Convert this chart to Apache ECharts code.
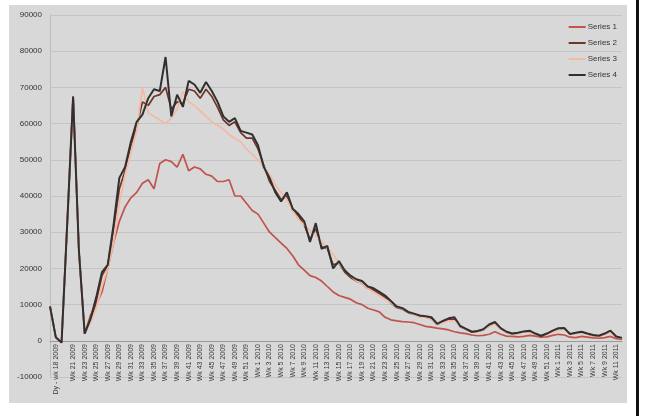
<!DOCTYPE html>
<html>
<head>
<meta charset="utf-8">
<script src="https://cdn.jsdelivr.net/npm/echarts@6/dist/echarts.min.js"></script>
<style>
  body { margin: 0; background: #fff; width: 645px; height: 416px; overflow: hidden; }
  #main { position: absolute; left: 9px; top: 5px; width: 618px; height: 398px; background: #d8d8d8; }
  #edge { position: absolute; left: 636px; top: 0; width: 3px; height: 416px; background: #111; }
</style>
</head>
<body>
<div id="main"></div>
<div id="edge"></div>
<script>
// weekly categories
const categories = [
  'Wk 17 2009', 'Dy - wk 18 2009', 'Wk 19 2009', 'Wk 20 2009', 'Wk 21 2009', 'Wk 22 2009', 'Wk 23 2009', 'Wk 24 2009', 'Wk 25 2009', 'Wk 26 2009',
  'Wk 27 2009', 'Wk 28 2009', 'Wk 29 2009', 'Wk 30 2009', 'Wk 31 2009', 'Wk 32 2009', 'Wk 33 2009', 'Wk 34 2009', 'Wk 35 2009', 'Wk 36 2009',
  'Wk 37 2009', 'Wk 38 2009', 'Wk 39 2009', 'Wk 40 2009', 'Wk 41 2009', 'Wk 42 2009', 'Wk 43 2009', 'Wk 44 2009', 'Wk 45 2009', 'Wk 46 2009',
  'Wk 47 2009', 'Wk 48 2009', 'Wk 49 2009', 'Wk 50 2009', 'Wk 51 2009', 'Wk 52 2009', 'Wk 1 2010', 'Wk 2 2010', 'Wk 3 2010', 'Wk 4 2010',
  'Wk 5 2010', 'Wk 6 2010', 'Wk 7 2010', 'Wk 8 2010', 'Wk 9 2010', 'Wk 10 2010', 'Wk 11 2010', 'Wk 12 2010', 'Wk 13 2010', 'Wk 14 2010',
  'Wk 15 2010', 'Wk 16 2010', 'Wk 17 2010', 'Wk 18 2010', 'Wk 19 2010', 'Wk 20 2010', 'Wk 21 2010', 'Wk 22 2010', 'Wk 23 2010', 'Wk 24 2010',
  'Wk 25 2010', 'Wk 26 2010', 'Wk 27 2010', 'Wk 28 2010', 'Wk 29 2010', 'Wk 30 2010', 'Wk 31 2010', 'Wk 32 2010', 'Wk 33 2010', 'Wk 34 2010',
  'Wk 35 2010', 'Wk 36 2010', 'Wk 37 2010', 'Wk 38 2010', 'Wk 39 2010', 'Wk 40 2010', 'Wk 41 2010', 'Wk 42 2010', 'Wk 43 2010', 'Wk 44 2010',
  'Wk 45 2010', 'Wk 46 2010', 'Wk 47 2010', 'Wk 48 2010', 'Wk 49 2010', 'Wk 50 2010', 'Wk 51 2010', 'Wk 52 2010', 'Wk 1 2011', 'Wk 2 2011',
  'Wk 3 2011', 'Wk 4 2011', 'Wk 5 2011', 'Wk 6 2011', 'Wk 7 2011', 'Wk 8 2011', 'Wk 9 2011', 'Wk 10 2011', 'Wk 11 2011', 'Wk 12 2011'
];

const series1 = [
  9500, 1000, -500, 33000, 67500, 25000, 2000, 7000, 10000, 13500,
  20000, 27000, 33000, 37000, 39500, 41000, 43500, 44500, 42000, 49000,
  50000, 49500, 48000, 51500, 47000, 48000, 47500, 46000, 45500, 44000,
  44000, 44500, 40000, 40000, 38000, 36000, 35000, 32500, 30000, 28500,
  27000, 25500, 23500, 21000, 19500, 18000, 17500, 16500, 15000, 13500,
  12500, 12000, 11500, 10500, 10000, 9000, 8500, 8000, 6500, 5800,
  5500, 5300, 5200, 5000, 4500, 4000, 3800, 3500, 3300, 3000,
  2500, 2200, 2000, 1600, 1400, 1500, 1800, 2500, 1800, 1300,
  1200, 1100, 1200, 1500, 1300, 1000, 1100, 1500, 1800, 1600,
  1000, 900, 1200, 1000, 800, 700, 900, 1200, 600, 400
];

const series2 = [
  9500, 1000, -500, 33000, 67500, 25000, 2000, 5500, 11000, 18000,
  21000, 31000, 42000, 47000, 54000, 59000, 66000, 65000, 67500, 68000,
  70000, 64000, 66000, 65500, 69500, 69000, 67000, 69500, 67500, 64500,
  61000, 59500, 60500, 57500, 56000, 56000, 53000, 48500, 44000, 41500,
  39000, 40000, 36000, 34500, 32000, 28000, 31000, 26000, 25500, 21000,
  21500, 19000, 17500, 16500, 16000, 14500, 14000, 13000, 12000, 10500,
  9200, 8700, 7800, 7300, 6800, 6500, 6200, 4500, 5200, 5800,
  6000, 3900, 3200, 2400, 2600, 3000, 4200, 4900, 3300, 2400,
  1900, 2100, 2500, 2600, 1900, 1300, 1900, 2600, 3300, 3600,
  1800, 2100, 2400, 1900, 1500, 1300, 1900, 2600, 1100, 700
];

const series3 = [
  9500, 1000, -500, 33000, 67500, 25000, 2000, 5000, 9000, 15000,
  20000, 27000, 38000, 46000, 52000, 58000, 70000, 63000, 62000, 61000,
  60000, 61500, 64000, 68800, 66000, 65000, 63500, 62000, 60500, 59500,
  58500, 57000, 55800, 55000, 53000, 51500, 50000, 48000, 46000, 43000,
  41000, 39000, 36000, 33500, 32000, 30500, 29000, 27500, 25500, 24000,
  21500, 19500, 18000, 16500, 16000, 14500, 13500, 12500, 11500, 10500,
  9500, 8800, 8000, 7200, 6500, 6500, 5800, 4500, 5000, 5500,
  5500, 4000, 3200, 2600, 2500, 3000, 4000, 4600, 3200, 2300,
  1900, 2000, 2400, 2500, 1800, 1500, 1800, 2400, 3000, 3200,
  1800, 2000, 2200, 1800, 1500, 1300, 1700, 2400, 1100, 700
];

const series4 = [
  9500, 1000, -500, 33000, 67500, 25000, 2000, 6000, 12000, 19000,
  21000, 32000, 45000, 48000, 55000, 60500, 62500, 67000, 69500, 69000,
  78400, 62000, 68000, 64600, 71800, 70800, 68500, 71500, 69000, 66000,
  62000, 60500, 61500, 58000, 57500, 57000, 54000, 48000, 45000, 41000,
  38500, 41000, 36500, 35000, 33000, 27300, 32500, 25400, 26200, 20000,
  22000, 19500, 18000, 17000, 16500, 15000, 14500, 13500, 12500, 11000,
  9500, 9000, 8000, 7500, 7000, 6800, 6500, 4700, 5500, 6200,
  6500, 4100, 3300, 2500, 2700, 3200, 4500, 5200, 3500, 2500,
  2000, 2200, 2600, 2800, 2000, 1400, 2000, 2800, 3500, 3500,
  1900, 2200, 2500, 2000, 1600, 1400, 2000, 2800, 1200, 800
];

const seriesNames = ['Series 1', 'Series 2', 'Series 3', 'Series 4'];
const seriesData = [series1, series2, series3, series4];
const colors = ['#c0544a', '#6f3528', '#f4b9a3', '#303030'];
const widths = [1.7, 1.7, 1.7, 2];

const myChart = echarts.init(document.getElementById('main'));

myChart.setOption({
  animation: false,
  color: colors,
  textStyle: { fontFamily: 'Liberation Sans, Arial, sans-serif' },
  grid: { left: 41, right: 5, top: 10, bottom: 26, containLabel: false, outerBoundsMode: 'none' },
  legend: {
    orient: 'vertical',
    right: 5,
    top: 13,
    itemGap: 8,
    itemWidth: 17,
    itemHeight: 2,
    icon: 'rect',
    textStyle: { fontSize: 8, color: '#333', padding: [0, 0, 0, -3] },
    data: seriesNames
  },
  xAxis: {
    type: 'category',
    boundaryGap: false,
    data: categories,
    // keep the axis and its labels on the zero line
    offset: -36,
    axisLine: { onZero: false, lineStyle: { color: '#9a9a9a' } },
    axisTick: { show: false },
    axisLabel: {
      rotate: 90,
      fontSize: 7,
      color: '#3a3a3a',
      margin: 3,
      interval: function (i) { return i === 1 || (i >= 4 && i % 2 === 0); }
    }
  },
  yAxis: {
    type: 'value',
    min: -10000,
    max: 90000,
    interval: 10000,
    axisLine: { show: true, lineStyle: { color: '#bdbdbd' } },
    axisTick: { show: false },
    axisLabel: { fontSize: 8, color: '#333', margin: 8, formatter: function (v) { return String(v); } },
    splitLine: { lineStyle: { color: '#c4c4c4' } }
  },
  series: seriesData.map(function (d, k) {
    return {
      name: seriesNames[k],
      type: 'line',
      data: d,
      symbol: 'none',
      lineStyle: { width: widths[k], color: colors[k] }
    };
  })
});
</script>
</body>
</html>
